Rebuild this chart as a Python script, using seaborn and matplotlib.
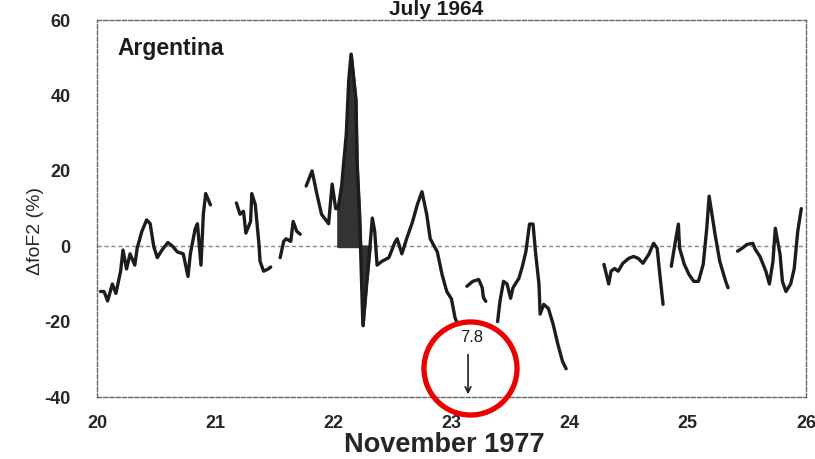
import numpy as np
import pandas as pd
import matplotlib
matplotlib.use("Agg")
import matplotlib.pyplot as plt
import seaborn as sns

# ---- data (day of November 1977, delta foF2 in %) ----
seg1_t = [20.03, 20.06, 20.09, 20.13, 20.16, 20.20, 20.22, 20.25, 20.28, 20.32, 20.34, 20.38, 20.42,
          20.45, 20.48, 20.51, 20.55, 20.60, 20.64, 20.68, 20.73, 20.77, 20.79, 20.83, 20.85, 20.88,
          20.90, 20.92, 20.96]
seg1_v = [-12, -12, -14.5, -10, -12.5, -6.6, -1, -6, -2, -5, -0.5, 4, 7,
          6, 0, -3, -1, 1, 0, -1.5, -2, -8, -2, 4.5, 6, -5,
          8.5, 14, 11]
seg2_t = [21.18, 21.21, 21.24, 21.26, 21.30, 21.31, 21.34, 21.35, 21.37, 21.38, 21.41, 21.45, 21.47]
seg2_v = [11.5, 8.5, 9.3, 3.5, 6.6, 14, 11, 7.5, 0.8, -4, -6.6, -6, -5.5]
seg3_t = [21.55, 21.58, 21.60, 21.64, 21.66, 21.69, 21.72]
seg3_v = [-3, 1.3, 2, 1.3, 6.6, 4, 3.2]
seg4_t = [21.77, 21.82, 21.86, 21.90, 21.96, 21.99, 22.02, 22.04, 22.07, 22.11, 22.13, 22.15,
          22.19, 22.20, 22.22, 22.23, 22.25, 22.28, 22.31, 22.33, 22.35, 22.37, 22.41, 22.47,
          22.52, 22.54, 22.58, 22.62, 22.67, 22.71, 22.75, 22.79, 22.82, 22.88, 22.92, 22.96,
          23.00, 23.03, 23.05]
seg4_v = [16, 20, 14, 8.5, 6, 16.5, 10, 10, 16, 30, 44, 51,
          39, 22, 9, 0, -21, -10, 0, 7.5, 4, -5, -4, -3,
          1, 2, -2, 2, 6.5, 11, 14.5, 8.5, 2, -1.5, -7.5, -12,
          -14, -19, -20.5]
seg5_t = [23.13, 23.18, 23.23, 23.26, 23.27, 23.29]
seg5_v = [-10.6, -9.3, -8.8, -11, -13.6, -14.6]
seg6_t = [23.39, 23.41, 23.44, 23.47, 23.50, 23.52, 23.57, 23.60, 23.63, 23.66, 23.69, 23.71,
          23.74, 23.75, 23.78, 23.82, 23.86, 23.90, 23.94, 23.97]
seg6_v = [-20, -14.6, -9.3, -10, -13.8, -11, -8.5, -5.3, -1.3, 5.9, 5.9, -1.3,
          -10, -18, -15.4, -16.5, -20.7, -26, -30.6, -32.5]
seg7_t = [24.29, 24.33, 24.35, 24.38, 24.41, 24.45, 24.50, 24.54, 24.58, 24.62, 24.67, 24.71,
          24.74, 24.76, 24.79]
seg7_v = [-4.8, -10, -6.6, -5.9, -6.6, -4.5, -3.2, -2.7, -3.2, -4.5, -2.1, 0.8,
          -0.5, -6.6, -15.4]
seg8_t = [24.86, 24.89, 24.92, 24.93, 24.97, 25.01, 25.05, 25.09, 25.13, 25.16, 25.18, 25.20,
          25.23, 25.27, 25.32, 25.34]
seg8_v = [-5.3, 0.5, 5.9, -0.5, -4.8, -7.5, -9.3, -9.3, -4.8, 4.8, 13.3, 9.3,
          3.2, -4, -9.3, -11]
seg9_t = [25.42, 25.46, 25.50, 25.55, 25.57, 25.61, 25.66, 25.69, 25.72, 25.74, 25.78, 25.80,
          25.83, 25.87, 25.90, 25.93, 25.96]
seg9_v = [-1.3, -0.5, 0.5, 0.8, -0.8, -2.7, -6.6, -10, -4, 4.8, -2.1, -9.3,
          -12, -10, -5.9, 4, 10]

storm_start, storm_end = 22.03, 22.31   # shaded storm interval
x_ticks = [20, 21, 22, 23, 24, 25, 26]
y_ticks = [-40, -20, 0, 20, 40, 60]
annot_value = "7.8"
annot_x = 23.14

segments = [(seg1_t, seg1_v), (seg2_t, seg2_v), (seg3_t, seg3_v), (seg4_t, seg4_v),
            (seg5_t, seg5_v), (seg6_t, seg6_v), (seg7_t, seg7_v), (seg8_t, seg8_v),
            (seg9_t, seg9_v)]
rows = []
for i, (ts, vs) in enumerate(segments):
    for t, v in zip(ts, vs):
        rows.append({"t": t, "v": v, "seg": i})
df = pd.DataFrame(rows)

# ---- figure ----
sns.set_style("white")
plt.rcParams["font.family"] = ["Liberation Sans", "DejaVu Sans"]

fig = plt.figure(figsize=(8.15, 4.59), dpi=100)
ax = fig.add_axes([0.119, 0.135, 0.870, 0.821])

ink = "#1c1c1c"
sns.lineplot(data=df, x="t", y="v", units="seg", estimator=None, color=ink,
             linewidth=2.4, ax=ax, legend=False)

s4 = df[(df.seg == 3) & (df.t >= storm_start) & (df.t <= storm_end)]
ax.fill_between(s4.t, s4.v, 0, color="#333333", edgecolor="#333333", linewidth=2.0)

ax.axhline(0, color="#888888", linestyle=(0, (3, 2)), linewidth=1.0, zorder=0)

ax.set_xlim(20, 26)
ax.set_ylim(-40, 60)
ax.set_xticks(x_ticks)
ax.set_yticks(y_ticks)
ax.set_xticklabels([str(v) for v in x_ticks], fontweight="bold", fontsize=13)
ax.set_yticklabels([str(v) for v in y_ticks], fontweight="bold", fontsize=13)
ax.tick_params(axis="y", length=4, width=1, color="#555555", pad=15)
ax.tick_params(axis="x", length=3, width=1, color="#555555", direction="in", pad=13)

for sp in ax.spines.values():
    sp.set_visible(True)
    sp.set_linestyle((0, (3, 1.5)))
    sp.set_color("#666666")
    sp.set_linewidth(1.0)

ax.set_xlabel("November 1977", fontsize=19.5, fontweight="bold")
ax.xaxis.set_label_coords(0.49, -0.093)
ax.set_ylabel("ΔfoF2 (%)", fontsize=14)
ax.yaxis.set_label_coords(-0.075, 0.44)

ax.text(20.17, 52.5, "Argentina", fontsize=16.5, fontweight="bold", ha="left",
        va="center", color=ink)
fig.text(0.535, 1.0, "July 1964", fontsize=15, fontweight="bold", ha="center",
         va="top", color=ink)

# annotation inside red circle
ax.text(annot_x + 0.03, -24.3, annot_value, fontsize=12, ha="center", va="center", color=ink)
ax.annotate("", xy=(annot_x, -40), xytext=(annot_x, -28),
            arrowprops=dict(arrowstyle="->", color=ink, lw=1.2), annotation_clip=False)
ax.plot([23.16], [-32.4], marker="o", markersize=67, markerfacecolor="none",
        markeredgecolor="#ee0000", markeredgewidth=3.8, clip_on=False, zorder=5)

fig.savefig("out.png", dpi=100)
